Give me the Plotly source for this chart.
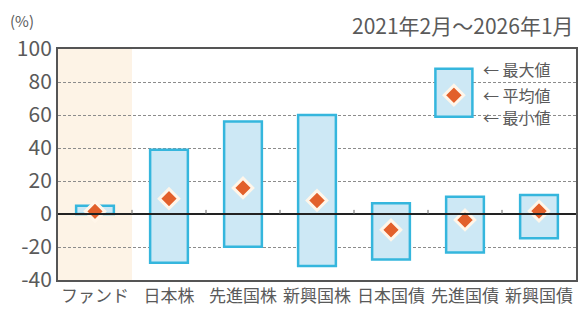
import plotly.graph_objects as go

categories = ["ファンド", "日本株", "先進国株", "新興国株", "日本国債", "先進国債", "新興国債"]
max_vals = [5, 39, 56, 60, 6.5, 10.5, 11.5]
min_vals = [0, -29.5, -19.8, -31.5, -27.5, -23.4, -14.7]
mean_vals = [1.6, 9.3, 15.8, 8.2, -9.6, -3.6, 1.8]
y_ticks = [-40, -20, 0, 20, 40, 60, 80, 100]
y_tick_labels = ["-40", "-20", "0", "20", "40", "60", "80", "100"]
period_label = "2021年2月～2026年1月"
legend_labels = ["最大値", "平均値", "最小値"]
legend_max, legend_min, legend_mean = 88, 59, 72
legend_pos = 4.85

FONT = "Noto Sans CJK JP"
TXT = "#5a5a5a"
BOX_FILL = "#cde8f5"
BOX_LINE = "#35b6dd"
MARK = "#e2602b"

x = list(range(len(categories)))
fig = go.Figure()

fig.add_trace(go.Bar(
    x=x, y=[a - b for a, b in zip(max_vals, min_vals)], base=min_vals,
    width=0.51, marker=dict(color=BOX_FILL, line=dict(color=BOX_LINE, width=2.5)),
    showlegend=False, hoverinfo="skip"))
fig.add_trace(go.Bar(
    x=[legend_pos], y=[legend_max - legend_min], base=[legend_min],
    width=0.5, marker=dict(color=BOX_FILL, line=dict(color=BOX_LINE, width=2.5)),
    showlegend=False, hoverinfo="skip"))
fig.add_trace(go.Scatter(
    x=x + [legend_pos], y=mean_vals + [legend_mean], mode="markers",
    marker=dict(symbol="diamond", size=15, color=MARK, line=dict(color="#fff6ea", width=3)),
    showlegend=False, hoverinfo="skip"))

shapes = [
    dict(type="rect", xref="x", yref="paper", x0=-0.5, x1=0.5, y0=0, y1=1,
         fillcolor="#fdf3e6", line=dict(width=0), layer="below"),
    dict(type="line", xref="paper", yref="y", x0=0, x1=1, y0=0, y1=0,
         line=dict(color="#222222", width=2), layer="above"),
]
for i in range(len(categories) - 1):
    shapes.append(dict(type="line", xref="x", yref="y", x0=i + 0.5, x1=i + 0.5, y0=0, y1=2.5,
                       line=dict(color="#666666", width=1)))

annotations = [
    dict(text=period_label, xref="paper", yref="paper", x=1.0, y=1.105, xanchor="right",
         yanchor="middle", showarrow=False, font=dict(family=FONT, size=21, color=TXT)),
    dict(text="(%)", xref="paper", yref="paper", x=-0.095, y=1.125, xanchor="left",
         yanchor="middle", showarrow=False, borderpad=0, font=dict(family=FONT, size=15, color=TXT)),
]
for lab, yv in zip(legend_labels, [legend_max, legend_mean, legend_min]):
    annotations.append(dict(text="← " + lab, xref="paper", yref="y", x=0.818, y=yv,
                            xanchor="left", yanchor="middle", showarrow=False, borderpad=0,
                            font=dict(family=FONT, size=16, color=TXT)))

fig.update_layout(
    width=579, height=311,
    margin=dict(l=58, r=3, t=49, b=31),
    paper_bgcolor="white", plot_bgcolor="white",
    barmode="overlay", shapes=shapes, annotations=annotations,
    font=dict(family=FONT, color=TXT),
    xaxis=dict(range=[-0.5, 6.5], tickvals=x, ticktext=categories, showgrid=False,
               showline=True, linecolor="#555555", linewidth=2, mirror=True,
               ticks="", tickfont=dict(size=17, color=TXT), fixedrange=True,
               automargin=False),
    yaxis=dict(range=[-40, 100], tickvals=y_ticks, ticktext=y_tick_labels, showgrid=True,
               gridcolor="#8c8c8c", griddash="3px,2px", gridwidth=1, zeroline=False,
               showline=True, linecolor="#555555", linewidth=2, mirror=True,
               ticks="", tickfont=dict(size=21, color=TXT), fixedrange=True,
               automargin=False),
)

fig.write_html("out.html", config={"displayModeBar": False},
               post_script="document.body.style.margin='0';document.body.style.padding='0';")
